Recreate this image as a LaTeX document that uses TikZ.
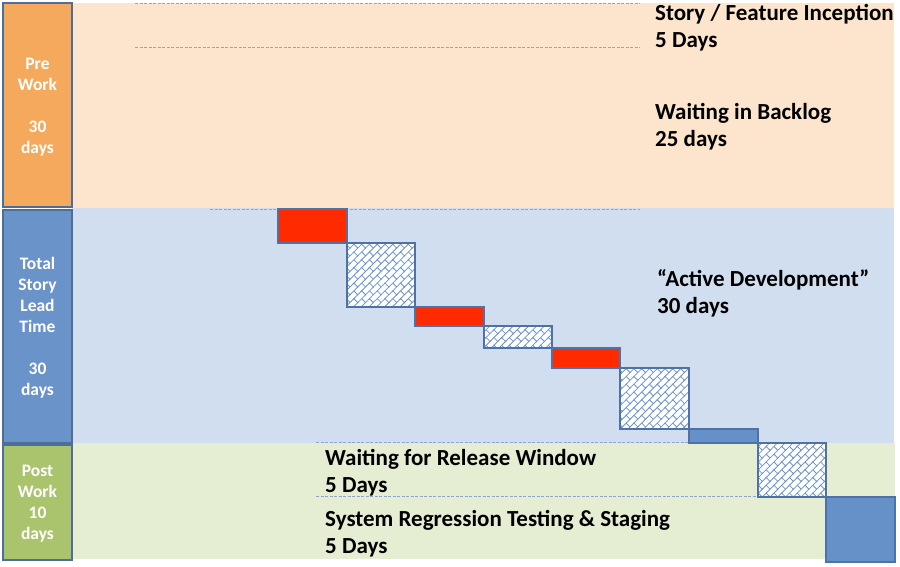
\documentclass[tikz,border=0pt]{standalone}
\usepackage{fontspec}
\setmainfont{Carlito}
\usetikzlibrary{patterns.meta}
\definecolor{peach}{HTML}{FCE4CD}
\definecolor{prework}{HTML}{F5A95C}
\definecolor{blueband}{HTML}{D1DEEF}
\definecolor{totalblue}{HTML}{6A93C9}
\definecolor{greenband}{HTML}{E5EDD3}
\definecolor{postgreen}{HTML}{AAC46D}
\definecolor{sideline}{HTML}{4D6D9A}
\definecolor{boxline}{HTML}{4F72A6}
\definecolor{taskred}{HTML}{FF2A00}
\definecolor{taskblue}{HTML}{6691C8}
\definecolor{hatchblue}{HTML}{6F94D0}
\definecolor{guideblue}{HTML}{8CA5CE}
\pgfdeclarepattern{
  name=dbricks,
  type=uncolored,
  bottom left={\pgfpoint{-1pt}{-1pt}},
  top right={\pgfpoint{12pt}{12pt}},
  tile size={\pgfpoint{11pt}{11pt}},
  tile transformation={\pgftransformrotate{45}},
  code={
    \pgfsetlinewidth{0.8pt}
    \pgfpathmoveto{\pgfpoint{-1pt}{0pt}}\pgfpathlineto{\pgfpoint{12pt}{0pt}}
    \pgfpathmoveto{\pgfpoint{-1pt}{5.5pt}}\pgfpathlineto{\pgfpoint{12pt}{5.5pt}}
    \pgfpathmoveto{\pgfpoint{0pt}{0pt}}\pgfpathlineto{\pgfpoint{0pt}{5.5pt}}
    \pgfpathmoveto{\pgfpoint{5.5pt}{5.5pt}}\pgfpathlineto{\pgfpoint{5.5pt}{11pt}}
    \pgfusepath{stroke}
  }
}
\begin{document}
\begin{tikzpicture}[x=1pt,y=-1pt,
  sidebox/.style={draw=sideline, line width=1.8pt},
  task/.style={draw=boxline, line width=1.8pt},
  redtask/.style={task, fill=taskred},
  bluetask/.style={task, fill=taskblue},
  hatchtask/.style={task, preaction={fill=white}, pattern=dbricks, pattern color=hatchblue},
  guide/.style={draw=guideblue, line width=0.9pt, dash pattern=on 3pt off 1.5pt},
  lbl/.style={font=\fontsize{23}{27}\selectfont\bfseries, align=left, anchor=west, inner sep=0pt, text=black},
  sidelbl/.style={font=\fontsize{17.5}{21}\selectfont\bfseries, align=center, text=white, inner sep=0pt}
]
\useasboundingbox (0,0) rectangle (900,567);
% bands
\fill[peach] (72,3) rectangle (894,208);
\fill[blueband] (72,208) rectangle (894,443);
\fill[greenband] (72,443) rectangle (895,559);
% guides
\draw[guide] (135,3) -- (640,3);
\draw[guide] (135,47) -- (640,47);
\draw[guide] (210,209) -- (640,209);
\draw[guide] (316,442) -- (822,442);
\draw[guide] (316,496) -- (757,496);
% tasks
\draw[redtask] (278,209) rectangle (347,243);
\draw[hatchtask] (347,243) rectangle (415,307);
\draw[redtask] (415,307) rectangle (484,326);
\draw[hatchtask] (484,326) rectangle (552,348);
\draw[redtask] (552,348) rectangle (620,368);
\draw[hatchtask] (620,368) rectangle (689,429);
\draw[bluetask] (689,429) rectangle (758,443);
\draw[hatchtask] (758,443) rectangle (826,497);
\draw[bluetask] (826,497) rectangle (895,562);
% side column
\draw[sidebox, fill=prework] (3,3) rectangle (72,207);
\draw[sidebox, fill=totalblue] (3,210) rectangle (72,443);
\draw[sidebox, fill=postgreen] (3,445) rectangle (72,560);
\node[sidelbl] (pre) at (37.5,107.5) {Pre\\Work\\[21pt]30\\days};
\node[sidelbl] (total) at (37.5,327.5) {Total\\Story\\Lead\\Time\\[21pt]30\\days};
\node[sidelbl] (post) at (37.5,503.5) {Post\\Work\\10\\days};
% labels
\node[lbl] (incep) at (655,27.5) {Story / Feature Inception\\5 Days};
\node[lbl] (backlog) at (655,126.5) {Waiting in Backlog\\25 days};
\node[lbl] (active) at (657,293.5) {“Active Development”\\30 days};
\node[lbl] (release) at (325,472.5) {Waiting for Release Window\\5 Days};
\node[lbl] (regress) at (325,533.5) {System Regression Testing \& Staging\\5 Days};
\end{tikzpicture}
\end{document}
